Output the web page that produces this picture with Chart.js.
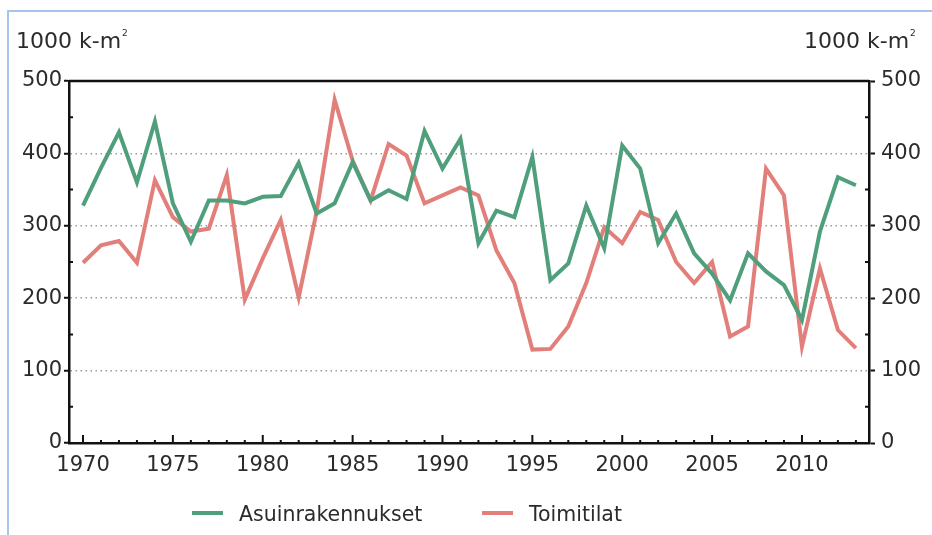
<!DOCTYPE html>
<html>
<head>
<meta charset="utf-8">
<script src="https://cdn.jsdelivr.net/npm/chart.js@4/dist/chart.umd.min.js"></script>
<style>
  body { margin: 0; background: #fff; font-family: "DejaVu Sans", Verdana, sans-serif; color: #2b2b2b; }
  #wrap { position: relative; width: 932px; height: 535px; overflow: hidden; }
  #frame { position: absolute; left: 7px; top: 10px; width: 960px; height: 560px; border: 2px solid #a6c5ec; }
  #chartBox { position: absolute; left: 0; top: 0; width: 932px; height: 535px; }
  .unit { position: absolute; top: 28px; font-size: 22px; white-space: nowrap; }
  .unit sup { font-size: 9px; vertical-align: 12px; margin-left: 1px; }
  .leg { position: absolute; top: 502px; font-size: 20.5px; white-space: nowrap; }
  .leg i { display: inline-block; width: 31px; height: 4px; margin-right: 16px; vertical-align: 6px; }
</style>
</head>
<body>
<div id="wrap">
  <div id="frame"></div>
  <div id="chartBox"><canvas id="chart"></canvas></div>
  <div class="unit" style="left:16px">1000 k-m<sup>2</sup></div>
  <div class="unit" style="left:804px">1000 k-m<sup>2</sup></div>
  <div id="legend"></div>
</div>
<script>
// ===== DATA =====
const years = [1970, 1971, 1972, 1973, 1974, 1975, 1976, 1977, 1978, 1979,
  1980, 1981, 1982, 1983, 1984, 1985, 1986, 1987, 1988, 1989,
  1990, 1991, 1992, 1993, 1994, 1995, 1996, 1997, 1998, 1999,
  2000, 2001, 2002, 2003, 2004, 2005, 2006, 2007, 2008, 2009,
  2010, 2011, 2012, 2013];

const asuinrakennukset = [328, 380, 429, 360, 444, 331, 278, 335, 335, 331,
  340, 341, 387, 317, 331, 388, 335, 349, 337, 431,
  379, 420, 276, 321, 312, 395, 225, 248, 328, 269,
  411, 379, 276, 317, 262, 234, 197, 262, 237, 218,
  170, 292, 367, 356];

const toimitilat = [249, 273, 279, 249, 363, 312, 292, 296, 370, 198,
  255, 308, 201, 320, 474, 390, 335, 413, 397, 331,
  342, 353, 342, 266, 221, 129, 130, 161, 221, 298,
  276, 319, 308, 250, 221, 250, 147, 161, 379, 342,
  133, 241, 156, 131];

const seriesNames = ["Asuinrakennukset", "Toimitilat"];
const seriesColors = ["#4f9f7c", "#e27f7a"];
const yTicks = [0, 100, 200, 300, 400, 500];
const labelYears = [1970, 1975, 1980, 1985, 1990, 1995, 2000, 2005, 2010];

// ===== EXTRA TICKS + BOX =====
const frameTicks = {
  id: "frameTicks",
  afterDraw(chart) {
    const { ctx, chartArea: a, scales } = chart;
    ctx.save();
    ctx.strokeStyle = "#111";
    ctx.lineWidth = 2;
    ctx.beginPath();
    // minor ticks on both y axes
    for (let v = 50; v < 500; v += 100) {
      const py = scales.y.getPixelForValue(v);
      ctx.moveTo(a.left, py); ctx.lineTo(a.left + 4, py);
      ctx.moveTo(a.right, py); ctx.lineTo(a.right - 4, py);
    }
    // year ticks pointing up
    years.forEach(yr => {
      const px = scales.x.getPixelForValue(yr);
      const len = labelYears.includes(yr) ? 8 : 3;
      ctx.moveTo(px, a.bottom); ctx.lineTo(px, a.bottom - len);
    });
    ctx.stroke();
    // top border
    ctx.lineWidth = 2.5;
    ctx.beginPath();
    ctx.moveTo(a.left, a.top); ctx.lineTo(a.right, a.top);
    ctx.stroke();
    ctx.restore();
  }
};

const tickFont = { family: "DejaVu Sans", size: 21 };

new Chart(document.getElementById("chart"), {
  type: "line",
  data: {
    datasets: [
      {
        label: seriesNames[0],
        data: years.map((yr, i) => ({ x: yr, y: asuinrakennukset[i] })),
        borderColor: seriesColors[0],
        borderWidth: 4,
        pointRadius: 0,
        tension: 0
      },
      {
        label: seriesNames[1],
        data: years.map((yr, i) => ({ x: yr, y: toimitilat[i] })),
        borderColor: seriesColors[1],
        borderWidth: 4,
        pointRadius: 0,
        tension: 0
      }
    ]
  },
  options: {
    responsive: true,
    maintainAspectRatio: false,
    animation: false,
    layout: { padding: { top: 81, bottom: 52, left: 0, right: 0 } },
    plugins: { legend: { display: false }, tooltip: { enabled: false } },
    scales: {
      x: {
        type: "linear",
        min: 1969.22,
        max: 2013.73,
        afterBuildTicks: s => { s.ticks = labelYears.map(v => ({ value: v })); },
        afterFit: s => { s.height = 40; },
        ticks: {
          autoSkip: false, maxRotation: 0, padding: 10,
          color: "#2b2b2b", font: tickFont,
          callback: v => String(v)
        },
        grid: { drawOnChartArea: false, drawTicks: false },
        border: { display: true, color: "#111", width: 2.5 }
      },
      y: {
        position: "left",
        min: 0, max: 500,
        afterBuildTicks: s => { s.ticks = yTicks.map(v => ({ value: v })); },
        afterFit: s => { s.width = 69; },
        ticks: { color: "#2b2b2b", font: tickFont, padding: 2 },
        grid: {
          color: c => (c.tick && c.tick.value > 0 && c.tick.value < 500) ? "#9a9a9a" : "rgba(0,0,0,0)",
          lineWidth: 1.5,
          tickColor: "#111",
          tickWidth: 2,
          tickLength: 5
        },
        border: { display: true, color: "#111", width: 2.5, dash: [1.5, 3.5] }
      },
      y2: {
        position: "right",
        min: 0, max: 500,
        afterBuildTicks: s => { s.ticks = yTicks.map(v => ({ value: v })); },
        afterFit: s => { s.width = 63; },
        ticks: { color: "#2b2b2b", font: tickFont, padding: 6 },
        grid: { drawOnChartArea: false, tickColor: "#111", tickWidth: 2, tickLength: 6 },
        border: { display: true, color: "#111", width: 2.5 }
      }
    }
  },
  plugins: [frameTicks]
});

// ===== LEGEND =====
const legendLeft = [192, 482];
document.getElementById("legend").innerHTML = seriesNames.map((name, i) =>
  `<div class="leg" style="left:${legendLeft[i]}px"><i style="background:${seriesColors[i]}"></i>${name}</div>`
).join("");
</script>
</body>
</html>
